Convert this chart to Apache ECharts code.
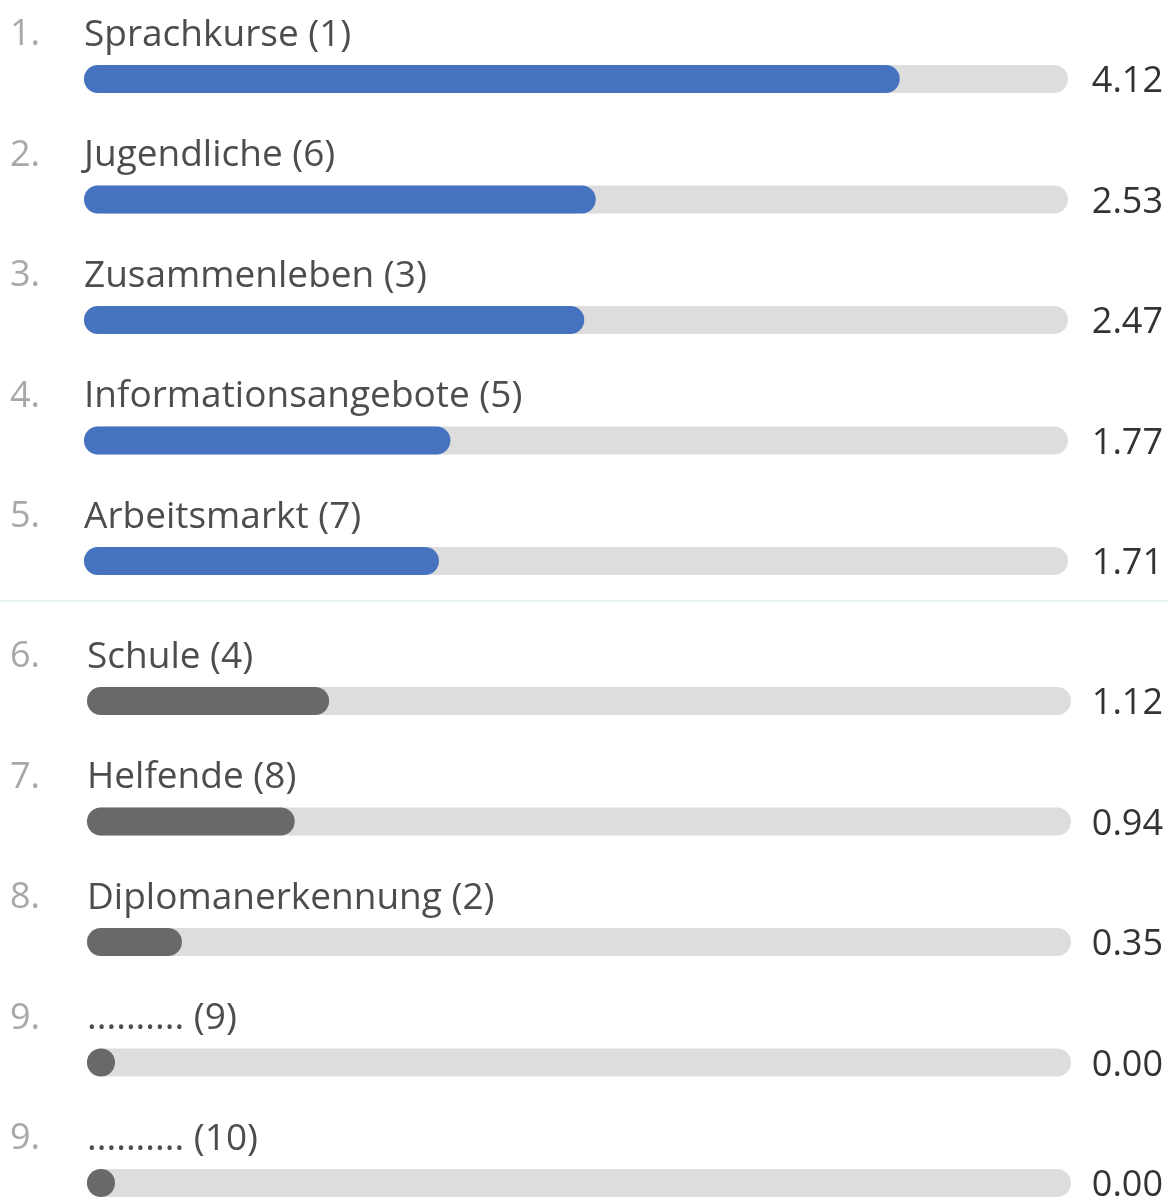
<!DOCTYPE html>
<html lang="de" style="height: 100%">
<head>
<meta charset="utf-8">
<title>Ranking</title>
</head>
<body style="height: 100%; margin: 0; background: #ffffff">
<div id="container" style="width: 1168px; height: 1197px"></div>

<script type="text/javascript" src="https://cdn.jsdelivr.net/npm/echarts/dist/echarts.min.js"></script>

<script type="text/javascript">

// data
const ranks = ['1.', '2.', '3.', '4.', '5.', '6.', '7.', '8.', '9.', '9.'];
const labels = [
    'Sprachkurse (1)', 'Jugendliche (6)', 'Zusammenleben (3)', 'Informationsangebote (5)',
    'Arbeitsmarkt (7)', 'Schule (4)', 'Helfende (8)', 'Diplomanerkennung (2)',
    '.......... (9)', '.......... (10)'
];
const values = [4.12, 2.53, 2.47, 1.77, 1.71, 1.12, 0.94, 0.35, 0.00, 0.00];
const maxValue = 5;

var dom = document.getElementById('container');
var myChart = echarts.init(dom);

const font = '"Open Sans", "Noto Sans", sans-serif';
const cap = 14; // half of the bar thickness

// each group of five rows gets its own grid
function makeRenderer(offset, fillColor) {
    return function (params, api) {
        const i = api.value(1);
        const v = api.value(0);
        const start = api.coord([0, i]);
        const end = api.coord([v, i]);
        const full = api.coord([maxValue, i]);
        const y = start[1];
        const k = offset + i;
        return {
            type: 'group',
            children: [
                {
                    type: 'rect',
                    shape: { x: start[0] - cap, y: y - cap, width: full[0] - start[0] + cap * 2, height: cap * 2, r: cap },
                    style: { fill: '#dddddd' }
                },
                {
                    type: 'rect',
                    shape: { x: start[0] - cap, y: y - cap, width: end[0] - start[0] + cap * 2, height: cap * 2, r: cap },
                    style: { fill: fillColor }
                },
                {
                    type: 'text',
                    style: { x: 10, y: y - 44, text: ranks[k], fill: '#a8a8a8', fontSize: 36, fontFamily: font, align: 'left', verticalAlign: 'middle' }
                },
                {
                    type: 'text',
                    style: { x: start[0] - cap, y: y - 44, text: labels[k], fill: '#4d4d4d', fontSize: 37, fontFamily: font, align: 'left', verticalAlign: 'middle' }
                },
                {
                    type: 'text',
                    style: { x: 1163, y: y + 3, text: values[k].toFixed(2), fill: '#333333', fontSize: 36, fontFamily: font, align: 'right', verticalAlign: 'middle' }
                }
            ]
        };
    };
}

const topData = values.slice(0, 5).map(function (v, i) { return [v, i]; });
const bottomData = values.slice(5).map(function (v, i) { return [v, i]; });

var option = {
    animation: false,
    grid: [
        { left: 98, right: 114, top: 79, height: 482 },
        { left: 101, right: 111, top: 701, height: 482 }
    ],
    xAxis: [
        { gridIndex: 0, type: 'value', min: 0, max: maxValue, show: false },
        { gridIndex: 1, type: 'value', min: 0, max: maxValue, show: false }
    ],
    yAxis: [
        { gridIndex: 0, type: 'category', data: [0, 1, 2, 3, 4], inverse: true, boundaryGap: false, show: false },
        { gridIndex: 1, type: 'category', data: [0, 1, 2, 3, 4], inverse: true, boundaryGap: false, show: false }
    ],
    graphic: [
        {
            type: 'line',
            shape: { x1: 0, y1: 601, x2: 1168, y2: 601 },
            style: { stroke: '#e0ecf0', lineWidth: 1.5 }
        }
    ],
    series: [
        {
            type: 'custom',
            xAxisIndex: 0,
            yAxisIndex: 0,
            renderItem: makeRenderer(0, '#4673c0'),
            encode: { x: 0, y: 1 },
            data: topData
        },
        {
            type: 'custom',
            xAxisIndex: 1,
            yAxisIndex: 1,
            renderItem: makeRenderer(5, '#6b6868'),
            encode: { x: 0, y: 1 },
            data: bottomData
        }
    ]
};

myChart.setOption(option);
window.addEventListener('resize', myChart.resize);
</script>
</body>
</html>
